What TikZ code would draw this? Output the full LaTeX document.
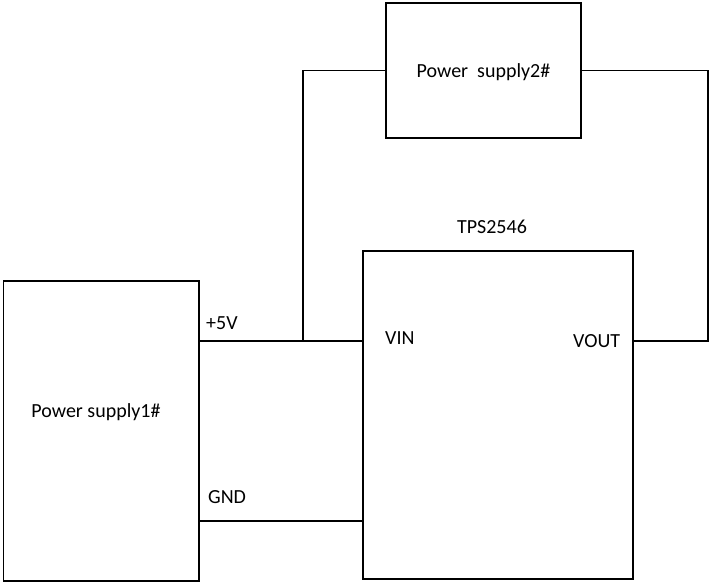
\documentclass[tikz,border=0pt]{standalone}
\usepackage{fontspec}
\setmainfont{Carlito}
\begin{document}
\begin{tikzpicture}[x=1pt,y=-1pt,
  box/.style={draw=black,line width=1.1pt,rectangle,inner sep=0pt},
  wire/.style={draw=black,line width=1.1pt},
  lbl/.style={inner sep=0pt,font=\fontsize{20}{23}\selectfont}]
\useasboundingbox[fill=white] (0,0) rectangle (712,585);
\node[box,minimum width=195.5pt,minimum height=300pt] (ps1) at (101.25,431) {};
\node[box,minimum width=270pt,minimum height=328pt] (tps) at (498,415) {};
\node[box,minimum width=195pt,minimum height=135pt] (ps2) at (483.5,70.5) {};
\node[lbl] (t1) at (96,412) {Power supply1\#};
\node[lbl] (t2) at (483.5,72) {Power\ \ supply2\#};
\node[lbl] (t3) at (492,227) {TPS2546};
\node[lbl,anchor=west] (t4) at (206,323) {+5V};
\node[lbl,anchor=west] (t5) at (208,497) {GND};
\node[lbl,anchor=west] (t6) at (385,338) {VIN};
\node[lbl,anchor=west] (t7) at (573,341) {VOUT};
\coordinate (j) at (303,341);
\coordinate (g) at (303,521);
\coordinate (vo) at (708,341);
\draw[wire] (ps1.east |- j) -- (tps.west |- j);
\draw[wire] (j) |- (ps2.west);
\draw[wire] (ps1.east |- g) -- (tps.west |- g);
\draw[wire] (tps.east |- vo) -- (vo) |- (ps2.east);
\end{tikzpicture}
\end{document}
